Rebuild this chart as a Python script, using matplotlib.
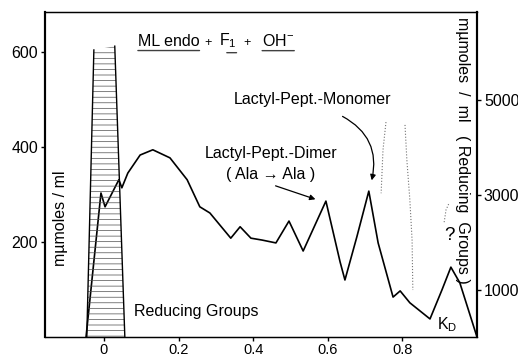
import matplotlib
matplotlib.use("Agg")
import matplotlib.pyplot as plt

plt.rcParams['font.family'] = ['Liberation Sans', 'DejaVu Sans']
plt.rcParams['mathtext.fontset'] = 'custom'
plt.rcParams['mathtext.rm'] = 'Liberation Sans'
plt.rcParams['mathtext.it'] = 'Liberation Sans:italic'
plt.rcParams['hatch.linewidth'] = 0.5

# elution profile, mµmoles / ml (left axis) against K_D
kd = [-0.048, -0.008, 0.003, 0.040, 0.048, 0.064, 0.097, 0.131, 0.177, 0.223,
      0.257, 0.284, 0.340, 0.365, 0.394, 0.424, 0.461, 0.496, 0.534, 0.595,
      0.633, 0.646, 0.678, 0.710, 0.735, 0.775, 0.794, 0.820, 0.874, 0.906,
      0.930, 0.954, 1.0]
conc = [0, 303, 274, 331, 314, 345, 383, 394, 377, 331,
        274, 261, 208, 232, 208, 204, 198, 244, 181, 286,
        158, 120, 211, 307, 198, 84, 97, 72, 38, 99,
        147, 114, 0]

# reducing groups (right axis)
red_kd = [-0.046, -0.027, 0.029, 0.056]
red_val = [0, 6050, 6130, 0]

dot_a_kd = [0.756, 0.748, 0.743]
dot_a_val = [4530, 3940, 3030]
dot_b_kd = [0.807, 0.812, 0.820, 0.826, 0.828]
dot_b_val = [4470, 3730, 2890, 2040, 990]
dot_c_kd = [0.912, 0.917, 0.925]
dot_c_val = [2420, 2680, 2820]

x_ticks = [0, 0.2, 0.4, 0.6, 0.8]
x_labels = ['0', '0.2', '0.4', '0.6', '0.8']
left_ticks = [200, 400, 600]
right_ticks = [1000, 3000, 5000]

fs = 11.5

fig = plt.figure(figsize=(5.18, 3.56), dpi=100)
ax = fig.add_axes([45 / 518, 1 - 337 / 356, 432 / 518, 325 / 356])
ax2 = ax.twinx()

# Reducing Groups -- hatched peak
ax2.fill(red_kd, red_val, facecolor='none', edgecolor='0.3', hatch='---', linewidth=0)
ax2.plot(red_kd[:2], red_val[:2], color='black', lw=1.0)
ax2.plot(red_kd[2:], red_val[2:], color='black', lw=1.0)
for xs, ys in [(dot_a_kd, dot_a_val), (dot_b_kd, dot_b_val), (dot_c_kd, dot_c_val)]:
    ax2.plot(xs, ys, color='0.45', lw=0.8, ls=':')

ax.plot(kd, conc, color='black', lw=1.2)

ax.set_xlim(-0.158, 1.0)
ax.set_ylim(0, 684)
ax2.set_ylim(0, 6850)

ax.set_xticks(x_ticks)
ax.set_xticklabels(x_labels)
ax.set_yticks(left_ticks)
ax2.set_yticks(right_ticks)
ax.tick_params(direction='out', length=3, width=1, labelsize=fs, pad=2)
ax.tick_params(axis='x', labelsize=10.5, pad=1)
ax2.tick_params(direction='out', length=3, width=1, labelsize=fs, pad=2)

for a in (ax, ax2):
    a.spines['left'].set_linewidth(1.5)
    a.spines['right'].set_linewidth(1.5)
    a.spines['top'].set_linewidth(0.9)
    a.spines['bottom'].set_linewidth(0.9)

# labels inside the frame
ax.text(0.035, 0.366, 'mµmoles / ml', transform=ax.transAxes, rotation=90,
        ha='center', va='center', fontsize=fs)
ax.text(0.966, 0.575, 'mµmoles  /  ml   ( Reducing  Groups )', transform=ax.transAxes,
        rotation=270, ha='center', va='center', fontsize=fs)

# ML endo + F1 + OH-  (underlined components)
t1 = ax.text(0.091, 613, 'ML endo', ha='left', va='baseline', fontsize=fs)
ax.text(0.268, 613, '+', ha='left', va='baseline', fontsize=9)
t2 = ax.text(0.308, 613, r'F$_{1}$', ha='left', va='baseline', fontsize=fs)
ax.text(0.375, 613, '+', ha='left', va='baseline', fontsize=9)
t3 = ax.text(0.424, 613, r'OH$^{-}$', ha='left', va='baseline', fontsize=fs)
for t, x0 in [(t1, 0.0), (t2, 0.45), (t3, 0.0)]:
    ax.annotate('', xy=(1.0, -0.12), xycoords=t, xytext=(x0, -0.12), textcoords=t,
                arrowprops=dict(arrowstyle='-', color='0.25', lw=1.0,
                                shrinkA=0, shrinkB=0))

ax.text(0.080, 53, 'Reducing Groups', ha='left', va='center', fontsize=fs)
ax.text(0.448, 387, 'Lactyl-Pept.-Dimer', ha='center', va='center', fontsize=fs)
ax.text(0.448, 341, '( Ala → Ala )', ha='center', va='center', fontsize=fs)
ax.text(0.560, 499, 'Lactyl-Pept.-Monomer', ha='center', va='center', fontsize=fs)
ax.text(0.925, 213, '?', ha='center', va='center', fontsize=fs + 2)
ax.text(0.893, 27, r'K$_\mathregular{D}$', ha='left', va='center', fontsize=fs)

ax.annotate('', xy=(0.574, 288), xytext=(0.453, 320),
            arrowprops=dict(arrowstyle='-|>', color='black', lw=0.9, mutation_scale=8))
ax.annotate('', xy=(0.716, 324), xytext=(0.633, 467),
            arrowprops=dict(arrowstyle='-|>', color='black', lw=0.9, mutation_scale=8,
                            connectionstyle='arc3,rad=-0.4'))

fig.savefig('out.png', dpi=100)
